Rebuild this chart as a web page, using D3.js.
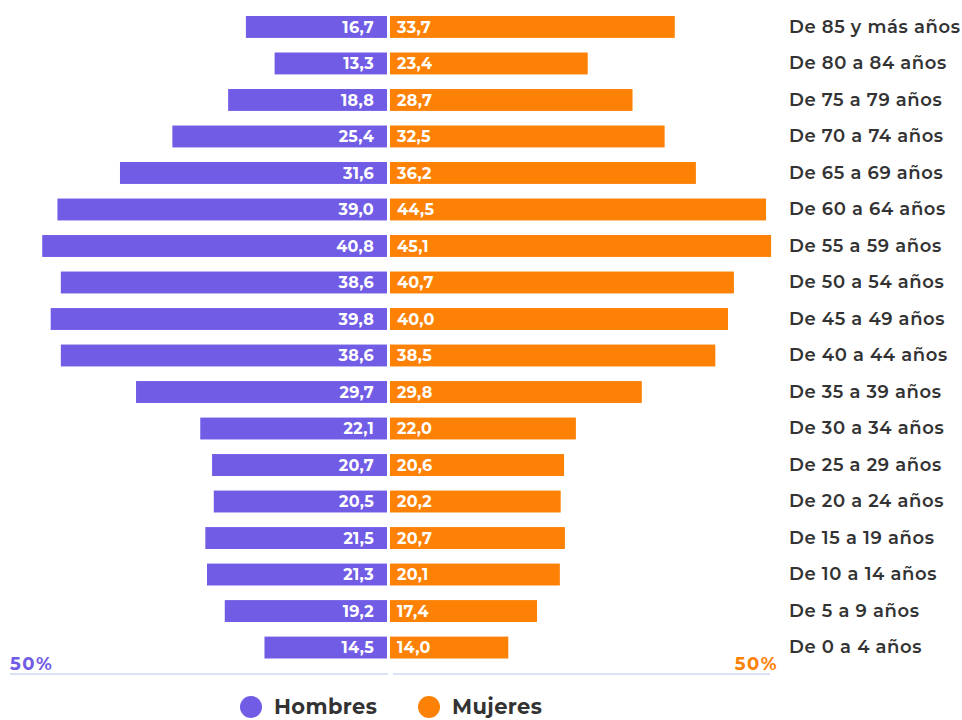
<!DOCTYPE html>
<html><head><meta charset="utf-8">
<script src="https://cdn.jsdelivr.net/npm/d3@7/dist/d3.min.js"></script>
<style>body{margin:0;background:#fff}svg{display:block}</style>
</head><body>
<svg id="c" width="962" height="720"></svg>
<script>
const categories = ["De 85 y más años","De 80 a 84 años","De 75 a 79 años","De 70 a 74 años","De 65 a 69 años","De 60 a 64 años","De 55 a 59 años","De 50 a 54 años","De 45 a 49 años","De 40 a 44 años","De 35 a 39 años","De 30 a 34 años","De 25 a 29 años","De 20 a 24 años","De 15 a 19 años","De 10 a 14 años","De 5 a 9 años","De 0 a 4 años"];
const hombres = [16.7,13.3,18.8,25.4,31.6,39.0,40.8,38.6,39.8,38.6,29.7,22.1,20.7,20.5,21.5,21.3,19.2,14.5];
const mujeres = [33.7,23.4,28.7,32.5,36.2,44.5,45.1,40.7,40.0,38.5,29.8,22.0,20.6,20.2,20.7,20.1,17.4,14.0];
const seriesNames = ["Hombres","Mujeres"];
const axisLabel = "50%";

const PURPLE = "#705ce5", ORANGE = "#fd8105", TEXT = "#333333";
const FONT = "Montserrat, 'Open Sans', sans-serif";
const svg = d3.select("#c");
const cxL = 387, cxR = 390;
const x = d3.scaleLinear().domain([0, 50]).range([0, 422.5]);
const y = d3.scaleBand().domain(categories).range([16, 658.5]).paddingInner(0.4).paddingOuter(0);
const fmt = v => d3.format(".1f")(v).replace(".", ",");

const rows = categories.map((c, i) => ({c, h: hombres[i], m: mujeres[i]}));

svg.append("g").selectAll("rect").data(rows).join("rect")
  .attr("x", d => cxL - x(d.h)).attr("y", d => y(d.c))
  .attr("width", d => x(d.h)).attr("height", y.bandwidth()).attr("fill", PURPLE);
svg.append("g").selectAll("rect").data(rows).join("rect")
  .attr("x", cxR).attr("y", d => y(d.c))
  .attr("width", d => x(d.m)).attr("height", y.bandwidth()).attr("fill", ORANGE);

const lbl = svg.append("g").attr("font-family", FONT).attr("font-weight", 700).attr("font-size", 16)
  .attr("letter-spacing", 0.3).attr("fill", "#fff");
lbl.selectAll("text.h").data(rows).join("text").attr("class","h")
  .attr("x", cxL - 13).attr("y", d => y(d.c) + y.bandwidth()/2).attr("dy", "0.36em")
  .attr("text-anchor", "end").text(d => fmt(d.h));
lbl.selectAll("text.m").data(rows).join("text").attr("class","m")
  .attr("x", cxR + 7).attr("y", d => y(d.c) + y.bandwidth()/2).attr("dy", "0.36em")
  .text(d => fmt(d.m));

svg.append("g").attr("font-family", FONT).attr("font-weight", 600).attr("font-size", 18)
  .attr("letter-spacing", 0.6).attr("fill", TEXT)
  .selectAll("text").data(categories).join("text")
  .attr("x", 789).attr("y", d => y(d) + y.bandwidth()/2).attr("dy", "0.33em").text(d => d);

// baseline
svg.append("line").attr("x1", 10).attr("x2", 388).attr("y1", 674).attr("y2", 674).attr("stroke", "#cddaf2").attr("stroke-width", 1.5);
svg.append("line").attr("x1", 393).attr("x2", 770).attr("y1", 674).attr("y2", 674).attr("stroke", "#cddaf2").attr("stroke-width", 1.5);
svg.append("text").attr("x", 10).attr("y", 670).attr("font-family", FONT).attr("font-weight", 700).attr("font-size", 18)
  .attr("letter-spacing", 1.5).attr("fill", PURPLE).text(axisLabel);
svg.append("text").attr("x", 778).attr("y", 670).attr("text-anchor", "end").attr("font-family", FONT).attr("font-weight", 700).attr("font-size", 18)
  .attr("letter-spacing", 1.5).attr("fill", ORANGE).text(axisLabel);

// legend
const legend = [{n: seriesNames[0], c: PURPLE, x: 251}, {n: seriesNames[1], c: ORANGE, x: 429}];
const lg = svg.append("g");
lg.selectAll("circle").data(legend).join("circle").attr("cx", d => d.x).attr("cy", 707).attr("r", 11).attr("fill", d => d.c);
lg.selectAll("text").data(legend).join("text").attr("x", d => d.x + 23).attr("y", 706).attr("dy", "0.36em")
  .attr("font-family", FONT).attr("font-weight", 700).attr("font-size", 21).attr("letter-spacing", 0.4).attr("fill", TEXT).text(d => d.n);
</script>
</body></html>
